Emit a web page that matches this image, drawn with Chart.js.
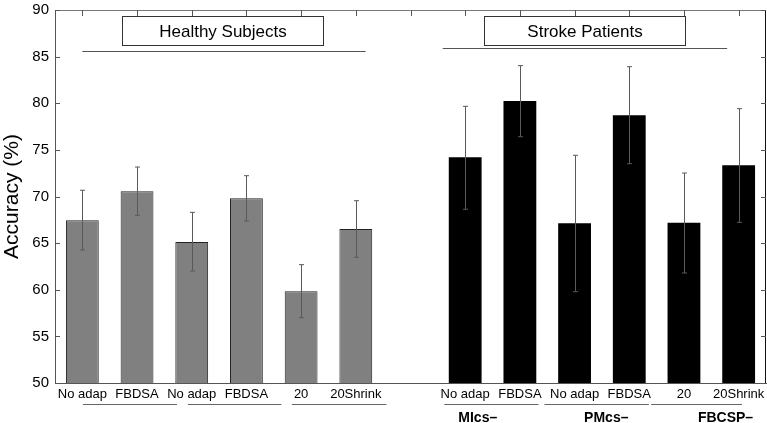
<!DOCTYPE html>
<html>
<head>
<meta charset="utf-8">
<script src="https://cdn.jsdelivr.net/npm/chart.js@4.4.1/dist/chart.umd.min.js"></script>
<style>
  body { margin: 0; background: #fff; }
</style>
</head>
<body>
<canvas id="accChart" width="767" height="423"></canvas>
<script>
// category slots: 6 healthy, 1 empty gap, 6 stroke
const labels = ['No adap', 'FBDSA', 'No adap', 'FBDSA', '20', '20Shrink', '',
                'No adap', 'FBDSA', 'No adap', 'FBDSA', '20', '20Shrink'];

const healthy     = [67.45, 70.56, 65.12, 69.80, 59.83, 66.51];
const healthyLow  = [64.26, 67.98, 62.01, 67.37, 57.00, 63.48];
const healthyHigh = [70.67, 73.16, 68.30, 72.23, 62.69, 69.55];

const stroke     = [74.20, 80.24, 67.13, 78.71, 67.19, 73.35];
const strokeLow  = [68.63, 76.41, 59.79, 73.52, 61.80, 67.23];
const strokeHigh = [79.67, 84.03, 74.42, 83.92, 72.52, 79.42];

const yTicks = [50, 55, 60, 65, 70, 75, 80, 85, 90];

// group annotations (category index units)
const groupNames = ['MIcs–', 'PMcs–', 'FBCSP–'];
const groupPos = [7.23, 9.58, 11.76];
const underlines = [[0.01, 1.73], [1.93, 3.64], [3.83, 5.56], [6.62, 8.34], [8.45, 10.36], [10.40, 12.06]];

const pad = (arr, before, after) => [...Array(before).fill(null), ...arr, ...Array(after).fill(null)];

const errorBars = {
    id: 'errorBars',
    afterDatasetsDraw(chart) {
        const { ctx, scales: { x, y } } = chart;
        const sets = [[healthyLow, healthyHigh, 0], [strokeLow, strokeHigh, 7]];
        ctx.save();
        ctx.strokeStyle = '#5a5a5a';
        ctx.lineWidth = 1;
        sets.forEach(([lo, hi, off]) => {
            lo.forEach((v, i) => {
                const px = Math.round(x.getPixelForValue(i + off)) + 0.5;
                const yl = y.getPixelForValue(v);
                const yh = y.getPixelForValue(hi[i]);
                ctx.beginPath();
                ctx.moveTo(px, yl); ctx.lineTo(px, yh);
                ctx.moveTo(px - 2.5, yl); ctx.lineTo(px + 2.5, yl);
                ctx.moveTo(px - 2.5, yh); ctx.lineTo(px + 2.5, yh);
                ctx.stroke();
            });
        });
        ctx.restore();
    }
};

const frame = {
    id: 'frame',
    afterDraw(chart) {
        const { ctx, chartArea: a, scales: { x, y } } = chart;
        ctx.save();
        ctx.lineWidth = 1;
        // top and right border
        ctx.strokeStyle = '#777';
        ctx.beginPath();
        ctx.moveTo(a.left, a.top + 0.5); ctx.lineTo(a.right, a.top + 0.5);
        ctx.stroke();
        ctx.strokeStyle = '#111';
        ctx.beginPath();
        ctx.moveTo(a.right - 0.5, a.top); ctx.lineTo(a.right - 0.5, a.bottom);
        ctx.stroke();
        // inner ticks
        ctx.strokeStyle = '#555';
        ctx.beginPath();
        labels.forEach((l, i) => {
            const px = Math.round(x.getPixelForValue(i)) + 0.5;
            ctx.moveTo(px, a.top); ctx.lineTo(px, a.top + 6);
        });
        yTicks.forEach(t => {
            const py = Math.round(y.getPixelForValue(t)) + 0.5;
            ctx.moveTo(a.left, py); ctx.lineTo(a.left + 5, py);
            ctx.moveTo(a.right, py); ctx.lineTo(a.right - 5, py);
        });
        ctx.stroke();

        // group boxes with lines
        const boxes = [
            ['Healthy Subjects', 0.72, 4.40, 0.0, 5.18, 85.6],
            ['Stroke Patients', 7.35, 11.02, 6.59, 11.79, 85.9]
        ];
        ctx.font = '17px "Liberation Sans", Arial, sans-serif';
        ctx.textAlign = 'center';
        ctx.textBaseline = 'middle';
        boxes.forEach(([txt, b0, b1, l0, l1, lv]) => {
            const ly = Math.round(y.getPixelForValue(lv)) + 0.5;
            ctx.strokeStyle = '#555';
            ctx.beginPath();
            ctx.moveTo(x.getPixelForValue(l0), ly); ctx.lineTo(x.getPixelForValue(l1), ly);
            ctx.stroke();
            const bx0 = Math.round(x.getPixelForValue(b0)) + 0.5;
            const bx1 = Math.round(x.getPixelForValue(b1)) + 0.5;
            const by0 = Math.round(y.getPixelForValue(89.36)) + 0.5;
            const by1 = Math.round(y.getPixelForValue(86.25)) + 0.5;
            ctx.fillStyle = '#fff';
            ctx.fillRect(bx0, by0, bx1 - bx0, by1 - by0);
            ctx.strokeStyle = '#333';
            ctx.strokeRect(bx0, by0, bx1 - bx0, by1 - by0);
            ctx.fillStyle = '#000';
            ctx.fillText(txt, (bx0 + bx1) / 2, (by0 + by1) / 2 + 1);
        });

        // underlines beneath tick labels
        ctx.strokeStyle = '#666';
        ctx.beginPath();
        underlines.forEach(([u0, u1]) => {
            ctx.moveTo(x.getPixelForValue(u0), a.bottom + 21.5);
            ctx.lineTo(x.getPixelForValue(u1), a.bottom + 21.5);
        });
        ctx.stroke();

        ctx.font = 'bold 14px "Liberation Sans", Arial, sans-serif';
        ctx.fillStyle = '#000';
        groupNames.forEach((g, i) => {
            ctx.fillText(g, x.getPixelForValue(groupPos[i]), a.bottom + 35);
        });
        ctx.restore();
    }
};

new Chart(document.getElementById('accChart'), {
    type: 'bar',
    data: {
        labels: labels,
        datasets: [{
            label: 'Healthy Subjects',
            data: pad(healthy, 0, 7),
            backgroundColor: '#808080',
            borderColor: '#222',
            borderWidth: 1,
            grouped: false,
            barPercentage: 0.6,
            categoryPercentage: 1
        }, {
            label: 'Stroke Patients',
            data: pad(stroke, 7, 0),
            backgroundColor: '#000',
            borderWidth: 0,
            grouped: false,
            barPercentage: 0.6,
            categoryPercentage: 1
        }]
    },
    options: {
        responsive: false,
        animation: false,
        devicePixelRatio: 1,
        layout: { padding: { top: 10, right: 1, left: 0, bottom: 0 } },
        plugins: {
            legend: { display: false },
            tooltip: { enabled: false }
        },
        scales: {
            x: {
                grid: { display: false, drawTicks: false },
                border: { display: true, color: '#555' },
                ticks: {
                    autoSkip: false,
                    maxRotation: 0,
                    padding: 4,
                    color: '#000',
                    font: { family: '"Liberation Sans", Arial, sans-serif', size: 13 }
                },
                afterFit: (s) => { s.height = 40; s.paddingLeft = 0; s.paddingRight = 0; }
            },
            y: {
                min: 50,
                max: 90,
                grid: { display: false, drawTicks: false },
                border: { display: true, color: '#555' },
                ticks: {
                    stepSize: 5,
                    padding: 6,
                    color: '#000',
                    font: { family: '"Liberation Sans", Arial, sans-serif', size: 15 }
                },
                title: {
                    display: true,
                    text: 'Accuracy (%)',
                    color: '#000',
                    padding: 0,
                    font: { family: '"Liberation Sans", Arial, sans-serif', size: 21 }
                },
                afterFit: (s) => { s.width = 55; s.paddingTop = 0; s.paddingBottom = 0; }
            }
        }
    },
    plugins: [errorBars, frame]
});
</script>
</body>
</html>
